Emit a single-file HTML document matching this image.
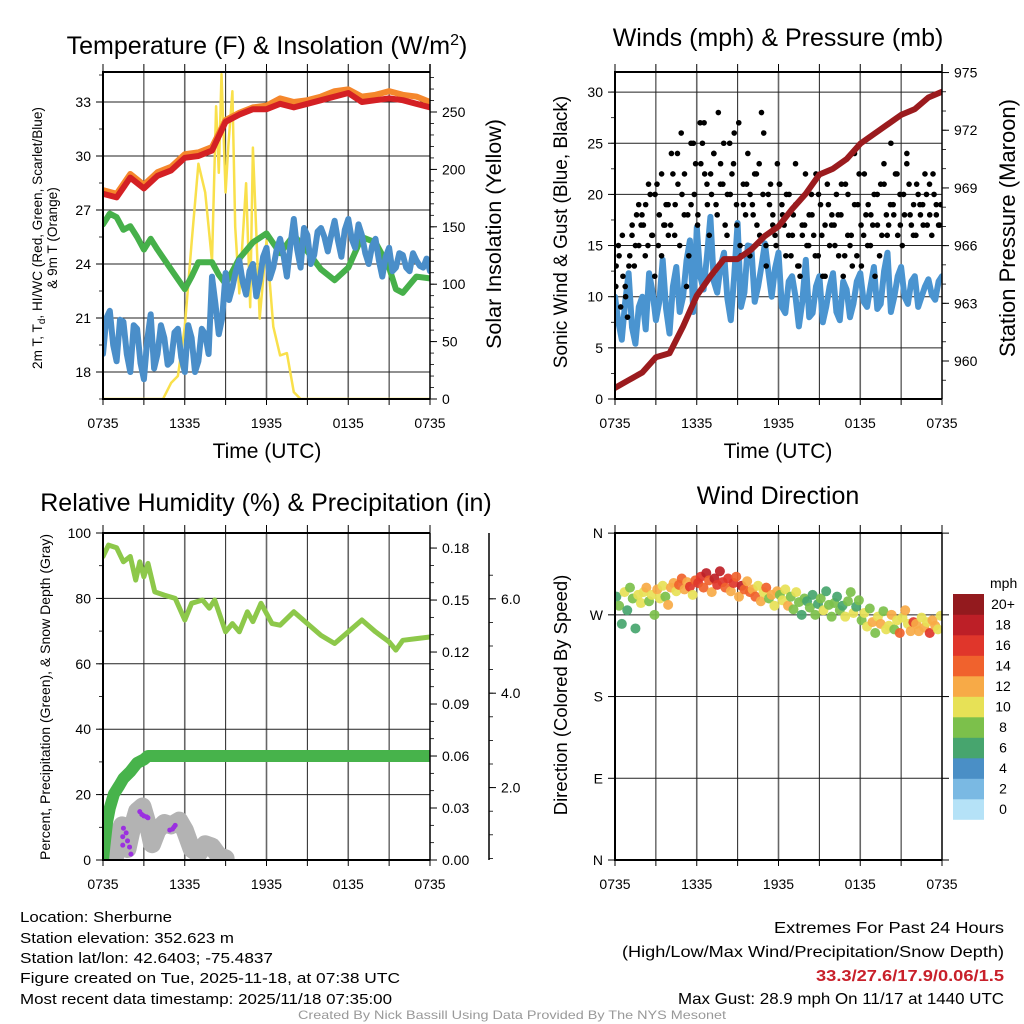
<!DOCTYPE html>
<html><head><meta charset="utf-8">
<style>
html,body{margin:0;padding:0;background:#fff;}
svg{display:block;font-family:"Liberation Sans",Arial,sans-serif;}
</style></head>
<body>
<svg id="fig" width="1024" height="1024" viewBox="0 0 1024 1024" xmlns="http://www.w3.org/2000/svg">
<defs>
<clipPath id="c1"><rect x="103" y="72" width="327" height="327"/></clipPath>
<clipPath id="c2"><rect x="615" y="72" width="327" height="327"/></clipPath>
<clipPath id="c3"><rect x="103" y="533" width="327" height="327"/></clipPath>
<clipPath id="c4"><rect x="615" y="533" width="327" height="327"/></clipPath>
</defs>
<text x="267" y="54" font-size="25" text-anchor="middle">Temperature (F) &amp; Insolation (W/m<tspan font-size="16" dy="-9">2</tspan><tspan dy="9">)</tspan></text>
<text x="778" y="46" font-size="25" text-anchor="middle">Winds (mph) &amp; Pressure (mb)</text>
<text x="266" y="511" font-size="25" text-anchor="middle">Relative Humidity (%) &amp; Precipitation (in)</text>
<text x="778" y="504" font-size="25" text-anchor="middle">Wind Direction</text>
<text x="267" y="458" font-size="21" text-anchor="middle">Time (UTC)</text>
<text x="778" y="458" font-size="21" text-anchor="middle">Time (UTC)</text>
<text transform="translate(42,238) rotate(-90)" font-size="13.6" text-anchor="middle">2m T, T<tspan font-size="10" dy="3">d</tspan><tspan dy="-3">, HI/WC (Red, Green, Scarlet/Blue)</tspan></text>
<text transform="translate(57,238) rotate(-90)" font-size="13.6" text-anchor="middle">&amp; 9m T (Orange)</text>
<text transform="translate(501,234) rotate(-90)" font-size="21.5" text-anchor="middle">Solar Insolation (Yellow)</text>
<text transform="translate(567,232) rotate(-90)" font-size="19" text-anchor="middle">Sonic Wind &amp; Gust (Blue, Black)</text>
<text transform="translate(1015,228) rotate(-90)" font-size="22" text-anchor="middle">Station Pressure (Maroon)</text>
<text transform="translate(50,697) rotate(-90)" font-size="14" text-anchor="middle">Percent, Precipitation (Green), &amp; Snow Depth (Gray)</text>
<text transform="translate(567,695) rotate(-90)" font-size="18.5" text-anchor="middle">Direction (Colored By Speed)</text>
<g font-size="15">
<text x="20" y="922" textLength="152" lengthAdjust="spacingAndGlyphs">Location: Sherburne</text>
<text x="20" y="943" textLength="214" lengthAdjust="spacingAndGlyphs">Station elevation: 352.623 m</text>
<text x="20" y="963" textLength="253" lengthAdjust="spacingAndGlyphs">Station lat/lon: 42.6403; -75.4837</text>
<text x="20" y="983" textLength="380" lengthAdjust="spacingAndGlyphs">Figure created on Tue, 2025-11-18, at 07:38 UTC</text>
<text x="20" y="1004" textLength="372" lengthAdjust="spacingAndGlyphs">Most recent data timestamp: 2025/11/18 07:35:00</text>
</g>
<g font-size="16">
<text x="774" y="933" textLength="230" lengthAdjust="spacingAndGlyphs">Extremes For Past 24 Hours</text>
<text x="622" y="957" textLength="382" lengthAdjust="spacingAndGlyphs">(High/Low/Max Wind/Precipitation/Snow Depth)</text>
<text x="816" y="981" fill="#c8202a" font-weight="bold" textLength="188" lengthAdjust="spacingAndGlyphs">33.3/27.6/17.9/0.06/1.5</text>
<text x="678" y="1004" textLength="326" lengthAdjust="spacingAndGlyphs">Max Gust: 28.9 mph On 11/17 at 1440 UTC</text>
</g>
<text x="512" y="1019" font-size="12" fill="#999" text-anchor="middle" textLength="428" lengthAdjust="spacingAndGlyphs">Created By Nick Bassill Using Data Provided By The NYS Mesonet</text>
</svg>
<script>
// ---------- data ----------
const timeLabels = ["0735","1335","1935","0135","0735"];
const tempTicks = [18,21,24,27,30,33];
const solarTicks = [0,50,100,150,200,250];
const windTicks = [0,5,10,15,20,25,30];
const presTicks = [960,963,966,969,972,975];
const rhTicks = [0,20,40,60,80,100];
const precTicks = ["0.00","0.03","0.06","0.09","0.12","0.15","0.18"];
const snowTicks = ["2.0","4.0","6.0"];
const dirLabels = ["N","E","S","W","N"];
const speedBins = ["0","2","4","6","8","10","12","14","16","18","20+"];

const hourly = [0,1,2,3,4,5,6,7,8,9,10,11,12,13,14,15,16,17,18,19,20,21,22,23,24];
const tempRed = [27.9,27.7,28.8,28.2,28.9,29.2,29.9,30.0,30.3,31.9,32.3,32.6,32.6,32.9,32.7,32.9,33.1,33.3,33.5,33.0,33.1,33.2,33.1,32.9,32.7];
const tempOrange = [28.1,27.9,29.0,28.4,29.1,29.4,30.1,30.2,30.5,32.0,32.4,32.7,32.8,33.2,33.0,33.1,33.3,33.6,33.7,33.3,33.4,33.6,33.4,33.3,33.0];
const dewTime = [0,0.5,1,1.5,2,2.5,3,3.5,4,5,6,6.5,7,8,8.5,9,10,11,12,13,14,15,16,17,18,19,20,21,21.5,22,23,24];
const dewVal = [26.2,26.8,26.6,25.9,26.1,25.5,24.8,25.4,24.8,23.7,22.6,23.3,24.1,24.1,23.4,22.9,24.3,25.2,25.7,24.6,25.6,24.7,23.7,23.1,23.8,25.5,25.2,23.8,22.6,22.4,23.3,23.2];
const halfHour = [0,0.5,1,1.5,2,2.5,3,3.5,4,4.5,5,5.5,6,6.5,7,7.5,8,8.5,9,9.5,10,10.5,11,11.5,12,12.5,13,13.5,14,14.5,15,15.5,16,16.5,17,17.5,18,18.5,19,19.5,20,20.5,21,21.5,22,22.5,23,23.5,24];
const windChill = [19.0,21.4,18.6,20.8,18.0,20.4,17.6,21.2,19.0,19.9,18.6,20.4,18.0,19.9,18.6,20.1,23.3,20.1,23.5,22.7,24.2,22.3,24.0,23.1,24.9,23.8,25.4,23.3,26.5,23.8,25.6,24.5,26.0,24.7,26.4,24.4,26.5,24.9,25.6,24.0,25.4,23.3,24.9,23.8,24.5,23.6,24.2,23.8,23.6];
const windChillMid = [21.0,19.5,20.9,19.0,20.6,18.5,19.8,18.2,20.6,18.4,20.2,18.8,20.6,18.0,20.4,19.0,21.8,21.0,22.0,23.6,23.0,23.6,22.2,24.4,23.2,24.8,24.5,25.0,24.8,26.0,24.0,25.8,25.5,25.6,25.3,25.9,25.4,26.2,24.6,25.0,24.2,24.4,23.6,24.6,23.8,24.6,23.9,24.3];
const solarTime = [0,4.4,5,5.5,6,6.5,7,7.5,8,8.3,8.5,8.7,9,9.2,9.5,9.7,10,10.5,10.8,11,11.5,12,12.5,13,13.5,14,14.5,24];
const solarVal = [0,0,14,20,63,136,205,180,120,255,197,283,180,220,268,150,92,188,80,219,70,138,63,38,40,6,0,0];

const windSpeed = [10,5.8,12.3,5.4,10,12.3,7.7,13.6,6.4,12.9,10,15.5,16.8,10.7,17.8,10.4,14.3,7.7,17.2,10.4,14.9,11,15.2,10,14.3,8.4,12,7.1,13.6,8.4,12,9,12.3,7.7,10.7,9.3,12.3,9,12.9,9.3,14.3,10,12.9,9.3,12,10,11.7,9.7,12];
const windSpeedMid = [7.5,9.5,7.0,9.0,6.8,10.5,9.5,8.8,11.0,8.5,13.5,8.5,12.0,14.0,11.5,13.0,9.8,12.0,9.0,15.0,9.5,13.0,12.5,12.8,9.0,11.5,10.0,9.5,8.0,11.0,7.5,11.0,8.5,11.5,8.0,11.5,9.5,11.0,8.8,12.5,8.5,12.0,10.0,11.5,9.0,11.0,10.2,11.5];
const pressure = [958.6,959.0,959.4,960.2,960.4,961.8,963.4,964.4,965.3,965.3,965.8,966.5,967.0,967.9,968.7,969.7,970.0,970.5,971.3,971.8,972.3,972.8,973.1,973.7,974.0];
const gustVal = [13,15,9,12,11,8,14,16,13,18,15,17,17,19,15,20,16,12,21,18,14,17,19,16,17,22,19,24,15,20,18,11,14,19,25,23,18,27,25,22,21,16,20,24,19,28,23,21,17,20,25,22,26,19,27,14,21,18,24,20,19,22,17,23,28,26,15,20,21,18,16,23,21,19,17,20,16,14,18,23,13,12,16,17,15,18,20,16,22,14,19,12,17,21,15,18,17,20,14,18,12,21,16,15,13,19,14,22,13,16,18,19,15,17,12,20,14,16,21,18,17,25,19,22,16,20,15,18,23,21,17,19,16,20,18,19,22,17,21,16,20,18,17,19];
const gustVal2 = [11,14,16,10,13,17,15,19,18,14,21,16,20,15,22,17,19,24,16,21,26,22,18,25,20,17,23,27,19,22,24,18,21,25,16,20,23,17,15,19,21,14,18,22,16,20,13,19,17,15,21,18,14,20,16,19,13,17,22,15,18,14,20,16,12,19,17,15,18,21,14,20,16,24,19,17,22,15,18,20,17,21,23,16,19,18,22,17,20,24,18,16,21,19,17,20,18,22,19,17];

const rhTime = [0,0.4,1,1.5,2,2.4,2.7,3,3.3,3.8,4.5,5.3,6,6.5,7.3,7.8,8.2,9,9.5,10,10.6,11,11.6,12.4,13,14,15,16,17,18,19,20,21,21.5,22,23,24];
const rhVal = [92.8,96.3,95.5,91.2,92.8,85.6,91.2,86.6,90.7,82,81,80,73.4,78.5,79.5,77,79.5,69.8,72.3,69.8,75.9,72.9,78.5,72.3,71.8,75.9,72.3,68.7,66.2,69.8,73.4,69.8,66.7,64.2,67.2,67.7,68.2];
const precTime = [0,0.1,0.3,0.5,0.8,1.2,1.5,2,2.5,3,3.3,24];
const precVal = [0,0.008,0.022,0.03,0.038,0.043,0.047,0.051,0.056,0.058,0.06,0.06];
const snowTime = [0.9,1.1,1.4,1.8,2.1,2.5,2.9,3.3,3.6,4.0,4.5,5.0,5.6,6.0,6.5,7.0,7.5,8.0,8.5,9.0];
const snowVal = [0.55,1.0,1.2,0.7,1.1,1.5,1.6,1.2,0.8,1.1,1.25,1.2,1.3,1.1,0.7,0.6,0.8,0.75,0.55,0.5];
const snowPtTime = [1.5,1.7,1.45,1.8,1.45,1.95,2.05,2.7,2.85,3.0,3.2,3.3,4.9,5.1,5.2,5.3];
const snowPtVal = [1.14,1.04,0.96,0.87,0.78,0.74,0.59,1.49,1.43,1.4,1.38,1.36,1.1,1.12,1.16,1.2];

const dirVal = [290,280,260,295,275,300,288,255,292,283, 295,300,285,292,270,298,288,302,290,281, 300,305,296,303,310,298,306,301,292,308, 305,312,300,316,308,295,310,303,318,306, 300,310,296,305,312,290,302,298,307,295, 298,290,302,285,295,300,288,292,280,296, 292,286,298,280,290,276,295,284,270,288, 285,278,292,270,282,288,275,296,281,268, 283,290,275,280,268,285,295,272,279,286, 264,272,257,277,262,250,268,260,274,254, 258,270,254,264,250,267,275,260,252,262, 260,252,267,256,262,250,264,258,254,269];
const dirSpd = [6,8,6,10,7,9,8,6,10,11, 11,12,9,10,8,12,11,10,9,12, 12,12,11,15,14,13,12,16,10,14, 16,17,14,18,15,13,18,17,19,16, 14,16,13,17,15,12,18,14,13,15, 12,14,10,12,11,15,9,13,10,12, 9,10,11,12,8,9,10,8,7,9, 7,8,6,9,7,8,10,6,8,9, 8,7,9,6,10,8,9,11,7,8, 8,11,10,9,12,8,10,13,9,11, 10,12,9,11,14,10,12,11,12,16, 12,13,11,12,10,16,12,13,11,10];

// ---------- rendering ----------
const NS = "http://www.w3.org/2000/svg";
const svg = document.getElementById("fig");
const binColors = ["#b5e2f7","#7ab9e3","#4a8fc6","#47a56e","#7cc04b","#e7e156","#f7aa47","#f0622d","#e0362b","#bd1f27","#931a1e"];
function mk(tag, attrs, parent){ const e=document.createElementNS(NS,tag); for(const k in attrs) e.setAttribute(k,attrs[k]); (parent||svg).appendChild(e); return e; }
function xs(x0){ return t => x0 + t*327/24; }
const P1={x0:103,y0:72,x1:430,y1:399}, P2={x0:615,y0:72,x1:942,y1:399}, P3={x0:103,y0:533,x1:430,y1:860}, P4={x0:615,y0:533,x1:942,y1:860};
const tempY = v => 102 + (33-v)*18;
const solarY = v => 399 - v*1.148;
const windY = v => 399 - v*10.23;
const presY = v => 361 - (v-960)*19.23;
const rhY = v => 860 - v*3.27;
const precY = v => 860 - v*1733;
const snowY = v => 882 - v*47.2;
const dirY = v => 860 - v*0.908;
function binColor(s){ let i=Math.floor(s/2); if(i>10)i=10; if(i<0)i=0; return binColors[i]; }
function interleave(main, mid){ const t=[], v=[]; main.forEach((x,i)=>{ t.push(i*0.5); v.push(x); if(i<mid.length){ t.push(i*0.5+0.25); v.push(mid[i]); } }); return [t,v]; }

function frame(P, name, hGridYs){
  const g = mk("g",{});
  
  
  const X = xs(P.x0);
  for(let h=3; h<24; h+=3){
    const l = mk("line",{x1:X(h),x2:X(h),y1:P.y0,y2:P.y1,stroke:(h%6===0)?"#666":"#222","stroke-width":(h%6===0)?1.6:1},g);
    
    
  }
  hGridYs.forEach(y=>{
    const l = mk("line",{x1:P.x0,x2:P.x1,y1:y,y2:y,stroke:"#222","stroke-width":1},g);
    
    
  });
  for(let h=0; h<=24; h+=3){
    const t = mk("line",{x1:X(h),x2:X(h),y1:P.y1,y2:P.y1+6,stroke:"#000","stroke-width":1},g);
    
    
    const t2 = mk("line",{x1:X(h),x2:X(h),y1:P.y0-8,y2:P.y0,stroke:"#000","stroke-width":1},g);
    
    
  }
  timeLabels.forEach((lab,i)=>{
    const tx = mk("text",{x:X(i*6),y:P.y1+29,"font-size":14,"text-anchor":"middle"},g);
    tx.textContent = lab;
    
    
  });
}
function border(P,name){
  const r = mk("path",{d:`M${P.x1},${P.y0} L${P.x0},${P.y0} L${P.x0},${P.y1} L${P.x1},${P.y1}`,fill:"none",stroke:"#000","stroke-width":2});
  
  
}
function yAxis(vals, fy, x, side, name, labels, minor){
  const g = mk("g",{});
  
  
  if(minor){ minor.forEach(v=>{ const y=fy(v); const m=mk("line",{x1:x,x2:x+(side<0?-4:4),y1:y,y2:y,stroke:"#000","stroke-width":0.8},g);
    
     }); }
  vals.forEach((v,i)=>{
    const y = fy(v);
    const tk = mk("line",{x1:x,x2:x+(side<0?-7:7),y1:y,y2:y,stroke:"#000","stroke-width":1},g);
    
    
    const tx = mk("text",{x:x+(side<0?-12:12),y:y+5,"font-size":14,"text-anchor":side<0?"end":"start"},g);
    tx.textContent = labels ? labels[i] : String(v);
    
    
  });
}
function path(ts, vs, fx, fy, color, w, clip, name){
  let d=""; ts.forEach((t,i)=>{ d += (i?"L":"M")+fx(t).toFixed(1)+","+fy(vs[i]).toFixed(1); });
  const p = mk("path",{d:d,fill:"none",stroke:color,"stroke-width":w,"stroke-linejoin":"round","stroke-linecap":"round","clip-path":`url(#${clip})`});
  
  
  return p;
}
function range(a,b,s){ const r=[]; for(let v=a; v<=b+1e-9; v+=s) r.push(+v.toFixed(4)); return r; }

// Panel 1
frame(P1,"temperature",tempTicks.map(tempY));
const X1 = xs(P1.x0);
path(solarTime, solarVal, X1, solarY, "#f9e04b", 2.5, "c1", "solar-insolation-line");
path(dewTime, dewVal, X1, tempY, "#46b04a", 6, "c1", "dewpoint-line");
const wc = interleave(windChill, windChillMid);
path(wc[0], wc[1], X1, tempY, "#4a8ec9", 6, "c1", "wind-chill-line");
path(hourly, tempOrange, X1, tempY, "#f5872c", 6, "c1", "temp-9m-line");
path(hourly, tempRed, X1, tempY, "#d42024", 6, "c1", "temp-2m-line");
border(P1,"temperature");
yAxis(tempTicks, tempY, P1.x0, -1, "temperature-y-axis", null, range(16.5,34.5,1.5));
const ax1 = mk("line",{x1:P1.x1,x2:P1.x1,y1:P1.y0-8,y2:P1.y1,stroke:"#000","stroke-width":1.5});


yAxis(solarTicks, solarY, P1.x1, 1, "solar-y-axis", null, range(0,280,10));

// Panel 2
frame(P2,"winds",windTicks.map(windY));
const X2 = xs(P2.x0);
const ws = interleave(windSpeed, windSpeedMid);
path(ws[0], ws[1], X2, windY, "#4a94d0", 6, "c2", "sonic-wind-line");
const gg = mk("g",{"clip-path":"url(#c2)"});


gustVal.forEach((v,i)=>{
  const c = mk("circle",{cx:X2((i+0.5)*24/gustVal.length),cy:windY(v),r:2.8,fill:"#000"},gg);
  
  
});
gustVal2.forEach((v,i)=>{
  const c = mk("circle",{cx:X2((i+0.25)*24/gustVal2.length),cy:windY(v),r:2.8,fill:"#000"},gg);
  
  
});
path(hourly, pressure, X2, presY, "#9b1b1e", 6, "c2", "pressure-line");
border(P2,"winds");
yAxis(windTicks, windY, P2.x0, -1, "wind-y-axis", null, range(0,32,2.5));
const ax2 = mk("line",{x1:P2.x1,x2:P2.x1,y1:P2.y0-8,y2:P2.y1,stroke:"#000","stroke-width":1.5});


yAxis(presTicks, presY, P2.x1, 1, "pressure-y-axis", null, range(959,975,1));

// Panel 3
frame(P3,"humidity",rhTicks.map(rhY));
const X3 = xs(P3.x0);
path(snowTime, snowVal, X3, snowY, "#b3b3b3", 18, "c3", "snow-depth-line");
const sp = mk("g",{"clip-path":"url(#c3)"});


snowPtTime.forEach((t,i)=>{
  const c = mk("circle",{cx:X3(t),cy:snowY(snowPtVal[i]),r:2.5,fill:"#9b30e0"},sp);
  
  
});
path(precTime, precVal, X3, precY, "#47b34b", 12, "c3", "precipitation-line");
path(rhTime, rhVal, X3, rhY, "#8dc84a", 5, "c3", "relative-humidity-line");
border(P3,"humidity");
yAxis(rhTicks, rhY, P3.x0, -1, "humidity-y-axis", null, range(0,100,10));
const ax3 = mk("line",{x1:P3.x1,x2:P3.x1,y1:P3.y0,y2:P3.y1,stroke:"#000","stroke-width":1.5});


yAxis(precTicks.map(Number), precY, P3.x1, 1, "precip-y-axis", precTicks, range(0,0.18,0.01));
const ax3b = mk("line",{x1:489,x2:489,y1:P3.y0,y2:P3.y1,stroke:"#000","stroke-width":1.5});


yAxis(snowTicks.map(Number), snowY, 489, 1, "snow-y-axis", snowTicks, range(0.5,6.5,0.5).filter(v=>snowY(v)>=533&&snowY(v)<=860));

// Panel 4
frame(P4,"direction",[0,90,180,270,360].map(dirY));
const X4 = xs(P4.x0);
const dg = mk("g",{"clip-path":"url(#c4)"});


dirVal.forEach((v,i)=>{
  const c = mk("circle",{cx:X4((i+0.5)*24/dirVal.length),cy:dirY(v),r:5,fill:binColor(dirSpd[i]),"fill-opacity":0.92},dg);
  
  
});
border(P4,"direction");
yAxis([0,90,180,270,360], dirY, P4.x0, -1, "direction-y-axis", dirLabels, null);
const ax4 = mk("line",{x1:P4.x1,x2:P4.x1,y1:P4.y0,y2:P4.y1,stroke:"#000","stroke-width":1.5});


[0,90,180,270,360].forEach(v=>{
  const t = mk("line",{x1:P4.x1,x2:P4.x1+7,y1:dirY(v),y2:dirY(v),stroke:"#000"});
  
  
});

// Colorbar
const cb = mk("g",{});


const cbTitle = mk("text",{x:990,y:588,"font-size":14},cb);
cbTitle.textContent = "mph";


speedBins.forEach((lab,i)=>{
  const k = speedBins.length-1-i;
  const y = 594 + k*20.5;
  const r = mk("rect",{x:953,y:y,width:31,height:20.8,fill:binColors[i]},cb);
  
  
  const t = mk("text",{x:1003,y:y+15,"font-size":14,"text-anchor":"middle"},cb);
  t.textContent = lab;
  
  
});
</script>
</body></html>
